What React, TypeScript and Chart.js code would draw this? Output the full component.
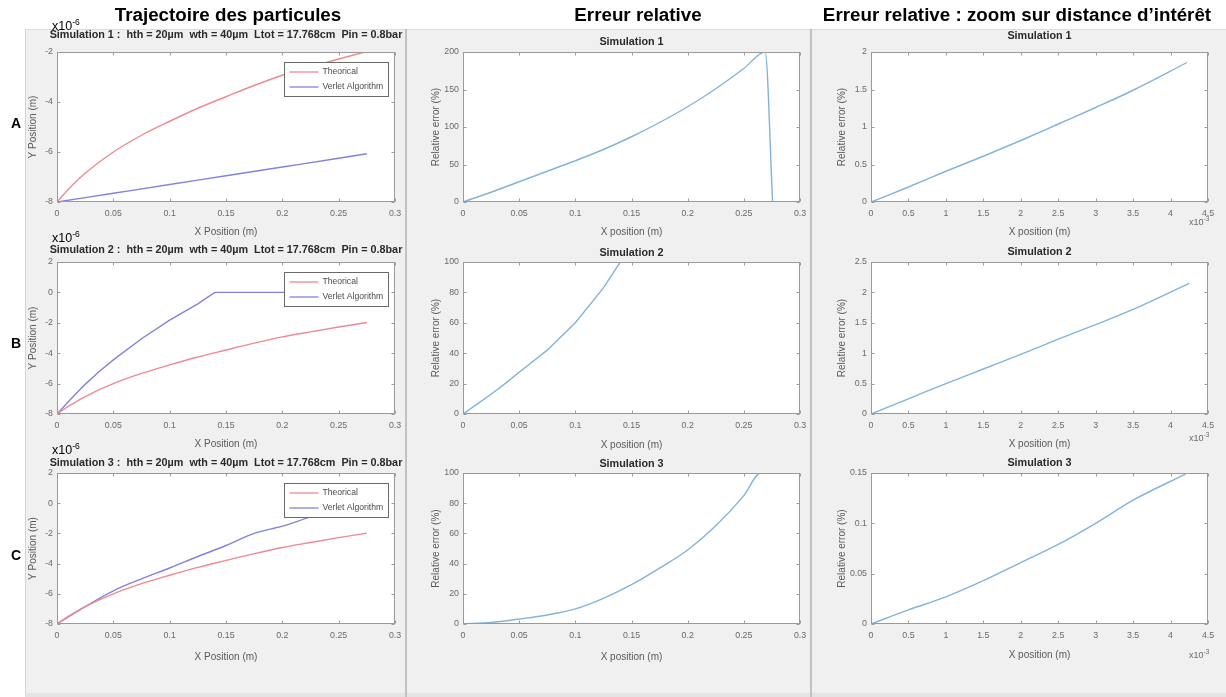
import React, { useEffect, useRef } from "react";
import { Chart, registerables } from "chart.js";
Chart.register(...registerables);

// ---------- data (y positions in 1e-6 m, zoom x in 1e-3 m) ----------
const trajX = [0, 0.01, 0.025, 0.05, 0.075, 0.1, 0.125, 0.15, 0.175, 0.2, 0.225, 0.25, 0.275];
const theoricalY = [-8, -7.5, -6.85, -6.0, -5.33, -4.77, -4.25, -3.79, -3.34, -2.93, -2.6, -2.28, -1.98];

const verletX1 = [0, 0.05, 0.1, 0.15, 0.2, 0.25, 0.275];
const verletY1 = [-8, -7.65, -7.3, -6.95, -6.6, -6.25, -6.07];
const verletX2 = [0, 0.0125, 0.025, 0.0375, 0.05, 0.075, 0.1, 0.125, 0.14, 0.2, 0.275];
const verletY2 = [-8, -7.0, -6.05, -5.2, -4.44, -3.05, -1.82, -0.75, 0, 0, 0];
const verletX3 = [0, 0.025, 0.05, 0.075, 0.1, 0.125, 0.15, 0.175, 0.2, 0.225, 0.25, 0.265, 0.275];
const verletY3 = [-8, -6.85, -5.8, -5.01, -4.29, -3.53, -2.8, -2.0, -1.52, -0.91, -0.34, 0, 0];

const err1X = [0, 0.025, 0.05, 0.075, 0.1, 0.125, 0.15, 0.175, 0.2, 0.225, 0.25, 0.269, 0.2756];
const err1Y = [0, 13, 27, 41, 55, 70, 87, 106, 127, 151, 178, 200, 0];
const err2X = [0, 0.0125, 0.025, 0.0375, 0.05, 0.075, 0.1, 0.125, 0.14, 0.275];
const err2Y = [0, 6.5, 13, 20, 27.5, 42, 60, 83, 100, 100];
const err3X = [0, 0.025, 0.05, 0.075, 0.1, 0.125, 0.15, 0.175, 0.2, 0.225, 0.25, 0.265, 0.275];
const err3Y = [0, 1, 3.3, 6, 10, 17, 26, 37, 49, 65, 85, 100, 100];

const zoomX1 = [0, 0.5, 1, 1.5, 2, 2.5, 3, 3.5, 4.22];
const zoomY1 = [0, 0.2, 0.41, 0.61, 0.82, 1.04, 1.26, 1.49, 1.86];
const zoomX2 = [0, 0.5, 1, 1.5, 2, 2.5, 3, 3.5, 4.25];
const zoomY2 = [0, 0.25, 0.5, 0.74, 0.98, 1.23, 1.47, 1.72, 2.15];
const zoomX3 = [0, 0.5, 1, 1.5, 2, 2.5, 3, 3.5, 4.2];
const zoomY3 = [0, 0.014, 0.027, 0.043, 0.061, 0.079, 0.1, 0.123, 0.149];

// ---------- ticks ----------
const trajXTicks = [0, 0.05, 0.1, 0.15, 0.2, 0.25, 0.3];
const trajYTicksA = [-8, -6, -4, -2];
const trajYTicksBC = [-8, -6, -4, -2, 0, 2];
const errXTicks = [0, 0.05, 0.1, 0.15, 0.2, 0.25, 0.3];
const errYTicks1 = [0, 50, 100, 150, 200];
const errYTicks23 = [0, 20, 40, 60, 80, 100];
const zoomXTicks = [0, 0.5, 1, 1.5, 2, 2.5, 3, 3.5, 4, 4.5];
const zoomYTicks1 = [0, 0.5, 1, 1.5, 2];
const zoomYTicks2 = [0, 0.5, 1, 1.5, 2, 2.5];
const zoomYTicks3 = [0, 0.05, 0.1, 0.15];

const legendLabels = ["Theorical", "Verlet Algorithm"];
const simParams = ":  hth = 20µm  wth = 40µm  Ltot = 17.768cm  Pin = 0.8bar";

// ---------- styles ----------
const FONT = "'Liberation Sans', Arial, Helvetica, sans-serif";
const RED = "#ee8a90";
const BLUE = "#8282e0";
const ERR = "#84b3da";
const PADL = 46, PADR = 46, PADT = 30, PADB = 46;
const TITLE_SIZE = 10.8;
const AXIS_SIZE = 10;
const TICK_SIZE = 8.8;

type Series = { x: number[]; y: number[]; color: string; smooth: boolean };
type Spec = {
  plot: [number, number, number, number];
  xr: [number, number]; yr: [number, number];
  xTicks: number[]; yTicks: number[];
  title: string; titleGap: number;
  xTitle: string; yTitle: string; yTitleGap: number; xTitleGap: number;
  series: Series[]; legend: boolean;
};

const COLS = { L: [57, 395], M: [463, 800], R: [871, 1208] };
const ROWS = { A: [52, 202], B: [262, 414], C: [473, 624] };
const box = (c: number[], r: number[]): [number, number, number, number] => [c[0], r[0], c[1], r[1]];

const specs: Spec[] = [
  { plot: box(COLS.L, ROWS.A), xr: [0, 0.3], yr: [-8, -2], xTicks: trajXTicks, yTicks: trajYTicksA,
    title: "Simulation 1 " + simParams, titleGap: 17, xTitle: "X Position (m)", yTitle: "Y Position (m)", yTitleGap: 24, xTitleGap: 30,
    series: [{ x: trajX, y: theoricalY, color: RED, smooth: true }, { x: verletX1, y: verletY1, color: BLUE, smooth: true }], legend: true },
  { plot: box(COLS.L, ROWS.B), xr: [0, 0.3], yr: [-8, 2], xTicks: trajXTicks, yTicks: trajYTicksBC,
    title: "Simulation 2 " + simParams, titleGap: 12, xTitle: "X Position (m)", yTitle: "Y Position (m)", yTitleGap: 24, xTitleGap: 30,
    series: [{ x: trajX, y: theoricalY, color: RED, smooth: true }, { x: verletX2, y: verletY2, color: BLUE, smooth: false }], legend: true },
  { plot: box(COLS.L, ROWS.C), xr: [0, 0.3], yr: [-8, 2], xTicks: trajXTicks, yTicks: trajYTicksBC,
    title: "Simulation 3 " + simParams, titleGap: 10, xTitle: "X Position (m)", yTitle: "Y Position (m)", yTitleGap: 24, xTitleGap: 33,
    series: [{ x: trajX, y: theoricalY, color: RED, smooth: true }, { x: verletX3, y: verletY3, color: BLUE, smooth: true }], legend: true },

  { plot: box(COLS.M, ROWS.A), xr: [0, 0.3], yr: [0, 200], xTicks: errXTicks, yTicks: errYTicks1,
    title: "Simulation 1", titleGap: 10, xTitle: "X position (m)", yTitle: "Relative error (%)", yTitleGap: 27, xTitleGap: 30,
    series: [{ x: err1X, y: err1Y, color: ERR, smooth: true }], legend: false },
  { plot: box(COLS.M, ROWS.B), xr: [0, 0.3], yr: [0, 100], xTicks: errXTicks, yTicks: errYTicks23,
    title: "Simulation 2", titleGap: 9, xTitle: "X position (m)", yTitle: "Relative error (%)", yTitleGap: 27, xTitleGap: 31,
    series: [{ x: err2X, y: err2Y, color: ERR, smooth: false }], legend: false },
  { plot: box(COLS.M, ROWS.C), xr: [0, 0.3], yr: [0, 100], xTicks: errXTicks, yTicks: errYTicks23,
    title: "Simulation 3", titleGap: 9, xTitle: "X position (m)", yTitle: "Relative error (%)", yTitleGap: 27, xTitleGap: 33,
    series: [{ x: err3X, y: err3Y, color: ERR, smooth: true }], legend: false },

  { plot: box(COLS.R, ROWS.A), xr: [0, 4.5], yr: [0, 2], xTicks: zoomXTicks, yTicks: zoomYTicks1,
    title: "Simulation 1", titleGap: 16, xTitle: "X position (m)", yTitle: "Relative error (%)", yTitleGap: 29, xTitleGap: 30,
    series: [{ x: zoomX1, y: zoomY1, color: ERR, smooth: true }], legend: false },
  { plot: box(COLS.R, ROWS.B), xr: [0, 4.5], yr: [0, 2.5], xTicks: zoomXTicks, yTicks: zoomYTicks2,
    title: "Simulation 2", titleGap: 10, xTitle: "X position (m)", yTitle: "Relative error (%)", yTitleGap: 29, xTitleGap: 30,
    series: [{ x: zoomX2, y: zoomY2, color: ERR, smooth: true }], legend: false },
  { plot: box(COLS.R, ROWS.C), xr: [0, 4.5], yr: [0, 0.15], xTicks: zoomXTicks, yTicks: zoomYTicks3,
    title: "Simulation 3", titleGap: 10, xTitle: "X position (m)", yTitle: "Relative error (%)", yTitleGap: 29, xTitleGap: 31,
    series: [{ x: zoomX3, y: zoomY3, color: ERR, smooth: true }], legend: false },
];

function axesPlugin(s: Spec) {
  return {
    id: "matlabAxes",
    beforeDraw(chart: any) {
      const { ctx, chartArea: a } = chart;
      ctx.save();
      ctx.fillStyle = "#ffffff";
      ctx.fillRect(a.left, a.top, a.right - a.left, a.bottom - a.top);
      ctx.restore();
    },
    afterDatasetsDraw(chart: any) {
      const { ctx, chartArea: a, scales } = chart;
      const L = Math.round(a.left) + 0.5, T = Math.round(a.top) + 0.5;
      const R = Math.round(a.right) - 0.5, B = Math.round(a.bottom) - 0.5;
      ctx.save();
      ctx.strokeStyle = "#9a9a9a";
      ctx.lineWidth = 1;
      ctx.strokeRect(L, T, R - L, B - T);
      ctx.beginPath();
      for (const t of scales.x.ticks) {
        const px = Math.round(scales.x.getPixelForValue(t.value)) + 0.5;
        ctx.moveTo(px, B); ctx.lineTo(px, B - 3);
        ctx.moveTo(px, T); ctx.lineTo(px, T + 3);
      }
      for (const t of scales.y.ticks) {
        const py = Math.round(scales.y.getPixelForValue(t.value)) + 0.5;
        ctx.moveTo(L, py); ctx.lineTo(L + 3, py);
        ctx.moveTo(R, py); ctx.lineTo(R - 3, py);
      }
      ctx.stroke();

      // axes title (MATLAB-style, centred on the axes box)
      ctx.font = `bold ${TITLE_SIZE}px ${FONT}`;
      ctx.fillStyle = "#2a2a2a";
      ctx.textAlign = "center";
      ctx.textBaseline = "middle";
      ctx.fillText(s.title, (a.left + a.right) / 2, a.top - s.titleGap);

      if (s.legend) {
        const w = 104, h = 34;
        const x = Math.round(a.right - 7 - w) + 0.5, y = Math.round(a.top + 10) + 0.5;
        ctx.fillStyle = "#ffffff";
        ctx.fillRect(x, y, w, h);
        ctx.strokeStyle = "#6a6a6a";
        ctx.lineWidth = 1;
        ctx.strokeRect(x, y, w, h);
        const rows = [y + 9.5, y + 24.5];
        ctx.font = `8.6px ${FONT}`;
        ctx.textBaseline = "middle";
        ctx.textAlign = "left";
        legendLabels.forEach((lab, i) => {
          ctx.strokeStyle = s.series[i].color;
          ctx.lineWidth = 1.3;
          ctx.beginPath();
          ctx.moveTo(x + 5, rows[i]); ctx.lineTo(x + 34, rows[i]);
          ctx.stroke();
          ctx.fillStyle = "#4a4a4a";
          ctx.fillText(lab, x + 38, rows[i]);
        });
      }
      ctx.restore();
    },
  };
}

function makeChart(canvas: HTMLCanvasElement, s: Spec) {
  const alh = AXIS_SIZE * 1.2;
  const tickFont = { family: FONT, size: TICK_SIZE };
  const axisTitleFont = { family: FONT, size: AXIS_SIZE, lineHeight: 1.2 };
  return new Chart(canvas, {
    type: "line",
    data: {
      datasets: s.series.map((se) => ({
        data: se.x.map((xv, i) => ({ x: xv, y: se.y[i] })),
        borderColor: se.color,
        borderWidth: 1.4,
        pointRadius: 0,
        cubicInterpolationMode: se.smooth ? "monotone" : "default",
        tension: 0,
        fill: false,
      })),
    },
    options: {
      animation: false,
      responsive: false,
      devicePixelRatio: 1,
      events: [],
      layout: { padding: { left: 0, right: PADR, top: PADT, bottom: 0 } },
      plugins: {
        legend: { display: false },
        tooltip: { enabled: false },
        title: { display: false },
      },
      scales: {
        x: {
          type: "linear",
          min: s.xr[0],
          max: s.xr[1],
          grid: { display: false, drawTicks: false },
          border: { display: false },
          afterBuildTicks: (sc: any) => { sc.ticks = s.xTicks.map((v) => ({ value: v })); },
          afterFit: (sc: any) => { sc.height = PADB; },
          ticks: { padding: 6, font: tickFont, color: "#6a6a6a", maxRotation: 0, autoSkip: false, callback: (v: any) => String(v) },
          title: { display: true, text: s.xTitle, color: "#5a5a5a", font: axisTitleFont, padding: { top: 0, bottom: PADB - s.xTitleGap - alh / 2 } },
        },
        y: {
          type: "linear",
          min: s.yr[0],
          max: s.yr[1],
          grid: { display: false, drawTicks: false },
          border: { display: false },
          afterBuildTicks: (sc: any) => { sc.ticks = s.yTicks.map((v) => ({ value: v })); },
          afterFit: (sc: any) => { sc.width = PADL; },
          ticks: { padding: 4, font: tickFont, color: "#6a6a6a", autoSkip: false, callback: (v: any) => String(v) },
          title: { display: true, text: s.yTitle, color: "#5a5a5a", font: axisTitleFont, padding: { top: PADL - s.yTitleGap - alh / 2, bottom: 0 } },
        },
      },
    } as any,
    plugins: [axesPlugin(s)],
  });
}

function Panel({ spec }: { spec: Spec }) {
  const ref = useRef<HTMLCanvasElement>(null);
  useEffect(() => {
    const c = makeChart(ref.current as HTMLCanvasElement, spec);
    return () => c.destroy();
  }, [spec]);
  const [l, t, r, b] = spec.plot;
  const w = r - l + PADL + PADR;
  const h = b - t + PADT + PADB;
  return (
    <canvas
      ref={ref}
      width={w}
      height={h}
      style={{ position: "absolute", left: l - PADL, top: t - PADT, width: w, height: h }}
    />
  );
}

const abs = (o: React.CSSProperties): React.CSSProperties => ({ position: "absolute", ...o });

function Exp({ left, base, exp, size, color }: { left: number; base: number; exp: string; size: number; color: string }) {
  return (
    <div style={abs({ left, top: base - size, fontFamily: FONT, fontSize: size, lineHeight: `${size}px`, color, whiteSpace: "nowrap" })}>
      x10<sup style={{ fontSize: size * 0.68, verticalAlign: "top", position: "relative", top: -size * 0.32 }}>{exp}</sup>
    </div>
  );
}

export default function App() {
  const heading: React.CSSProperties = { fontFamily: FONT, fontWeight: "bold", fontSize: 18.8, color: "#000", whiteSpace: "nowrap", transform: "translateX(-50%)", lineHeight: "20px" };
  const rowLab: React.CSSProperties = { fontFamily: FONT, fontWeight: "bold", fontSize: 14, color: "#000", lineHeight: "14px" };
  const expSmall: React.CSSProperties = { fontFamily: FONT, fontSize: 9, color: "#6a6a6a", whiteSpace: "nowrap" };
  return (
    <div style={abs({ left: 0, top: 0, width: 1226, height: 697, background: "#ffffff", overflow: "hidden" })}>
      <div style={abs({ left: 25, top: 29, width: 1201, height: 665, background: "#f0f0f0", borderTop: "1px solid #dcdcdc", borderLeft: "1px solid #d4d4d4", boxSizing: "border-box" })} />
      <div style={abs({ left: 25, top: 693, width: 1201, height: 4, background: "#e4e4e4" })} />
      <div style={abs({ left: 405, top: 29, width: 2, height: 668, background: "#c2c2c2" })} />
      <div style={abs({ left: 810, top: 29, width: 2, height: 668, background: "#c2c2c2" })} />

      {specs.map((s, i) => (
        <Panel key={i} spec={s} />
      ))}

      <div style={abs({ ...heading, left: 228, top: 5 })}>Trajectoire des particules</div>
      <div style={abs({ ...heading, left: 638, top: 5 })}>Erreur relative</div>
      <div style={abs({ ...heading, left: 1017, top: 5 })}>Erreur relative : zoom sur distance d’intérêt</div>

      <div style={abs({ ...rowLab, left: 11, top: 116 })}>A</div>
      <div style={abs({ ...rowLab, left: 11, top: 336 })}>B</div>
      <div style={abs({ ...rowLab, left: 11, top: 548 })}>C</div>

      <Exp left={52} base={32} exp="-6" size={12.5} color="#000" />
      <Exp left={52} base={244} exp="-6" size={12.5} color="#000" />
      <Exp left={52} base={456} exp="-6" size={12.5} color="#000" />

      <div style={abs({ ...expSmall, left: 1189, top: 215 })}>x10<sup style={{ fontSize: 6.5 }}>-3</sup></div>
      <div style={abs({ ...expSmall, left: 1189, top: 431 })}>x10<sup style={{ fontSize: 6.5 }}>-3</sup></div>
      <div style={abs({ ...expSmall, left: 1189, top: 648 })}>x10<sup style={{ fontSize: 6.5 }}>-3</sup></div>
    </div>
  );
}
